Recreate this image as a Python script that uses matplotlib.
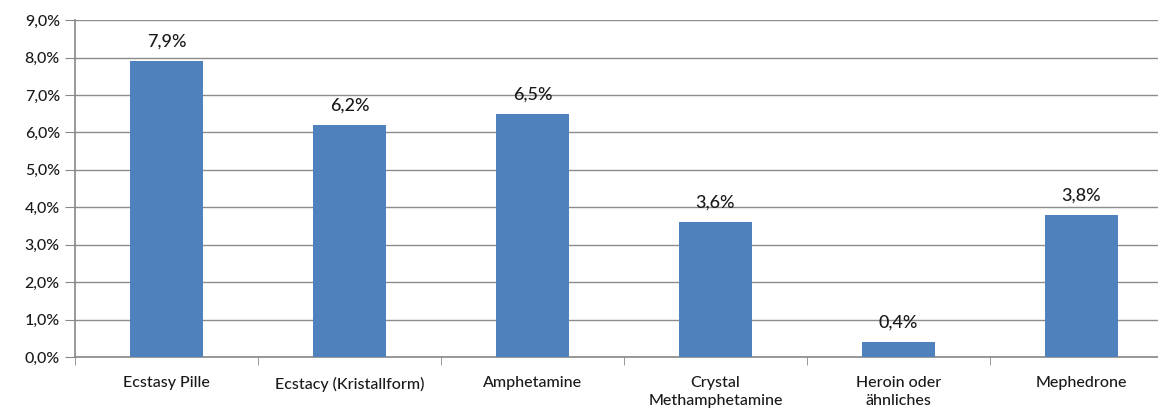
import matplotlib.pyplot as plt
import numpy as np

categories = ["Ecstasy Pille", "Ecstacy (Kristallform)", "Amphetamine",
              "Crystal\nMethamphetamine", "Heroin oder\nähnliches", "Mephedrone"]
values = [7.9, 6.2, 6.5, 3.6, 0.4, 3.8]
yticks = [0, 1, 2, 3, 4, 5, 6, 7, 8, 9]

plt.rcParams['font.family'] = ['Lato', 'DejaVu Sans']

fig = plt.figure(figsize=(11.58, 4.19), dpi=100)
ax = fig.add_axes([0.0648, 0.148, 0.948, 0.804])

x = np.arange(len(categories))
ax.bar(x, values, width=0.4, color="#4F81BD", zorder=3)
for xi, v in zip(x, values):
    ax.text(xi, v + 0.3, ("%.1f%%" % v).replace(".", ","), ha="center", va="bottom",
            fontsize=13, color="#1a1a1a", fontweight="medium")

ax.set_xlim(-0.5, len(categories) - 0.5)
ax.set_ylim(0, 9)
ax.set_yticks(yticks)
ax.set_yticklabels([("%.1f%%" % t).replace(".", ",") for t in yticks], fontsize=11.5,
                   color="#1a1a1a", fontweight="medium")
ax.set_xticks(x)
ax.set_xticklabels(categories, fontsize=11.5, color="#1a1a1a", linespacing=1.3,
                   fontweight="medium")
ax.set_xticks(np.arange(-0.5, len(categories), 1), minor=True)
ax.tick_params(axis="x", which="major", length=0, pad=14)
ax.tick_params(axis="x", which="minor", length=6, color="#888888", direction="out")
ax.tick_params(axis="y", length=7, color="#888888", pad=4)

ax.grid(axis="y", color="#8c8c8c", linewidth=1, zorder=0)
for s in ["top", "right"]:
    ax.spines[s].set_visible(False)
ax.spines["left"].set_color("#888888")
ax.spines["bottom"].set_color("#888888")
ax.spines["left"].set_linewidth(1.2)
ax.spines["bottom"].set_linewidth(1.2)

fig.savefig("out.png", dpi=100)
